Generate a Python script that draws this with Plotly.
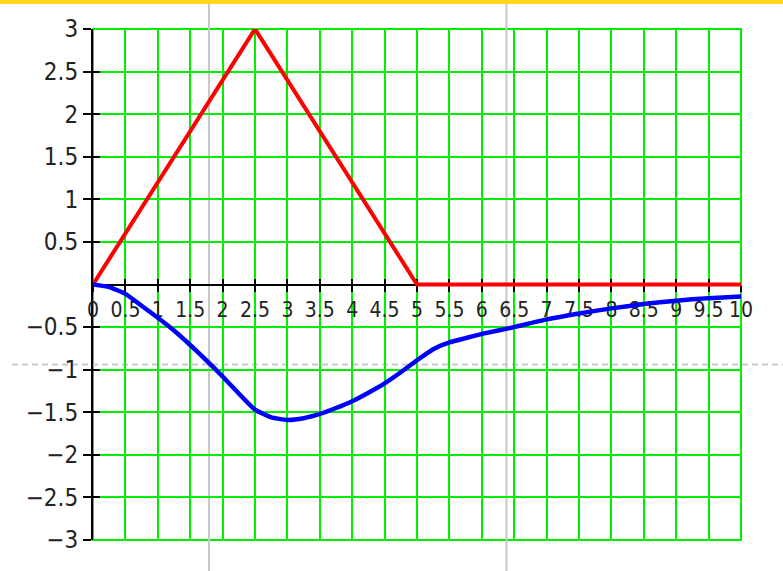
import plotly.graph_objects as go

# Input pulse (triangle) and the system response
t_input = [0, 2.5, 5, 10]
u_input = [0, 3, 0, 0]

t_resp = [0, 0.25, 0.5, 0.75, 1.0, 1.25, 1.5, 1.75, 2.0, 2.25, 2.5, 2.75,
          3.0, 3.25, 3.5, 3.75, 4.0, 4.25, 4.5, 4.75, 5.0, 5.25, 5.5, 5.75,
          6.0, 6.5, 7.0, 7.5, 8.0, 8.5, 9.0, 9.5, 10.0]
y_resp = [0, -0.03, -0.11, -0.25, -0.39, -0.54, -0.71, -0.89, -1.08, -1.28,
          -1.47, -1.56, -1.59, -1.57, -1.52, -1.45, -1.37, -1.27, -1.16, -1.03,
          -0.89, -0.76, -0.68, -0.63, -0.58, -0.50, -0.41, -0.34, -0.28, -0.23,
          -0.19, -0.16, -0.14]

x_ticks = [i * 0.5 for i in range(0, 21)]
y_ticks = [3, 2.5, 2, 1.5, 1, 0.5, -0.5, -1, -1.5, -2, -2.5, -3]

X_RANGE = [0, 10]
Y_RANGE = [-3, 3]

# editing guides of the worksheet (in data units)
guide_x = [1.79, 6.38]
guide_y = -0.94

W, H = 783, 571
ML, MR, MT, MB = 93, 42, 29, 31
PW, PH = W - ML - MR, H - MT - MB

GREEN = "#00f000"
FONT = "DejaVu Sans Condensed, DejaVu Sans"


def px_to_paper_x(p):
    return (p - ML) / PW


def px_to_paper_y(p):
    return 1 + (MT - p) / PH


def data_to_paper_x(v):
    return (v - X_RANGE[0]) / (X_RANGE[1] - X_RANGE[0])


def data_to_paper_y(v):
    return (v - Y_RANGE[0]) / (Y_RANGE[1] - Y_RANGE[0])


fig = go.Figure()

fig.add_trace(go.Scatter(x=t_input, y=u_input, mode="lines",
                         line=dict(color="#ff0000", width=4),
                         showlegend=False, hoverinfo="skip"))
fig.add_trace(go.Scatter(x=t_resp, y=y_resp, mode="lines",
                         line=dict(color="#0000ff", width=4.5, shape="spline", smoothing=0.4),
                         showlegend=False, hoverinfo="skip"))
# invisible trace so the crossing-tick axes are drawn
fig.add_trace(go.Scatter(x=[None], y=[None], xaxis="x2", yaxis="y2",
                         showlegend=False, hoverinfo="skip"))

shapes = []
# plot frame in grid colour
shapes.append(dict(type="rect", xref="paper", yref="paper", x0=0, x1=1, y0=0, y1=1,
                   line=dict(color=GREEN, width=2), layer="below"))
# gray guide lines
for gx in guide_x:
    px = data_to_paper_x(gx)
    shapes.append(dict(type="line", xref="paper", yref="paper",
                       x0=px, x1=px, y0=px_to_paper_y(4), y1=px_to_paper_y(H),
                       line=dict(color="#c8c8c8", width=2), layer="below"))
gy = data_to_paper_y(guide_y)
shapes.append(dict(type="line", xref="paper", yref="paper",
                   x0=px_to_paper_x(12), x1=px_to_paper_x(W), y0=gy, y1=gy,
                   line=dict(color="#c8c8c8", width=2, dash="6px,4px"), layer="below"))
# yellow strip at the top edge
shapes.append(dict(type="rect", xref="paper", yref="paper",
                   x0=px_to_paper_x(0), x1=px_to_paper_x(W),
                   y0=px_to_paper_y(4), y1=px_to_paper_y(0),
                   line=dict(width=0), fillcolor="#ffd823", layer="above"))

zero_pos = data_to_paper_y(0)

fig.update_layout(
    width=W, height=H,
    margin=dict(l=ML, r=MR, t=MT, b=MB, pad=0),
    paper_bgcolor="white",
    plot_bgcolor="rgba(0,0,0,0)",
    shapes=shapes,
    xaxis=dict(range=X_RANGE, anchor="free", position=zero_pos, layer="below traces",
               showline=True, linecolor="black", linewidth=2,
               ticks="outside", ticklen=6, tickwidth=1.5, tickcolor="black",
               tickmode="array", tickvals=x_ticks,
               showgrid=True, gridcolor=GREEN, gridwidth=2, zeroline=False,
               tickfont=dict(family=FONT, size=21, color="#222")),
    xaxis2=dict(range=X_RANGE, overlaying="x", anchor="free", position=zero_pos,
                layer="below traces",
                showline=False, ticks="inside", ticklen=6, tickwidth=1.5, tickcolor="black",
                tickmode="array", tickvals=x_ticks, showticklabels=False,
                showgrid=False, zeroline=False),
    yaxis=dict(range=Y_RANGE, showline=True, linecolor="black", linewidth=2,
               layer="below traces",
               ticks="outside", ticklen=8, tickwidth=1.5, tickcolor="black",
               tickmode="array", tickvals=y_ticks,
               showgrid=True, gridcolor=GREEN, gridwidth=2, zeroline=False,
               tickfont=dict(family=FONT, size=24, color="#222")),
    yaxis2=dict(range=Y_RANGE, overlaying="y", anchor="x2",
                showline=False, ticks="inside", ticklen=7, tickwidth=1.5, tickcolor="black",
                tickmode="array", tickvals=y_ticks, showticklabels=False,
                showgrid=False, zeroline=False),
)

fig.write_html("out.html")
